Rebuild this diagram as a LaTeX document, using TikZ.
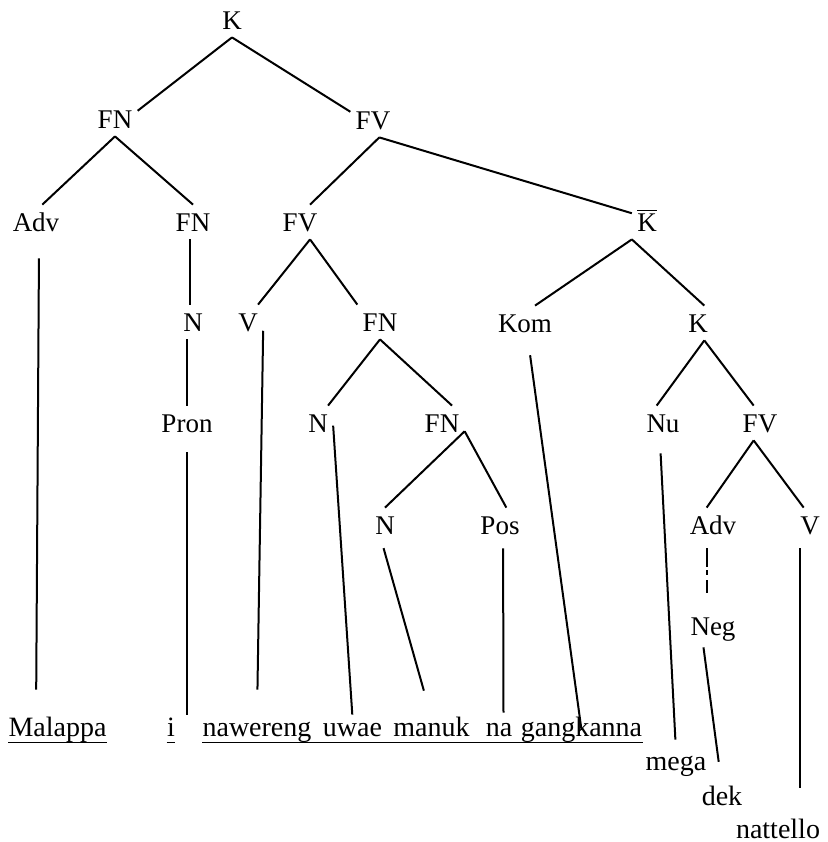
\documentclass[tikz,border=0pt]{standalone}
\usepackage{fontspec}
\setmainfont{Liberation Serif}

\begin{document}
\begin{tikzpicture}[x=0.5pt, y=-0.5pt,
    font=\fontsize{13.5pt}{16pt}\selectfont,
    cat/.style={inner xsep=2.5pt, inner ysep=4pt, text height=9pt, text depth=0pt},
    word/.style={inner sep=0pt, text height=9pt, text depth=3pt, anchor=base,
      font=\fontsize{14pt}{16pt}\selectfont},
    tline/.style={line width=1pt},
    uline/.style={line width=0.9pt}]
      \useasboundingbox (0,0) rectangle (827,842);

      % categories
      \node[cat] (k) at (232,20) {K};
      \node[cat] (fn1) at (115,119) {FN};
      \node[cat] (fv1) at (373,120) {FV};
      \node[cat] (adv1) at (36,222) {Adv};
      \node[cat] (fn2) at (193,222) {FN};
      \node[cat] (fv2) at (300,222) {FV};
      \node[cat] (kbar) at (647,222) {$\overline{\mbox{K}}$};
      \node[cat] (n1) at (193,322) {N};
      \node[cat] (v1) at (248,322) {V};
      \node[cat] (fn3) at (380,322) {FN};
      \node[cat] (kom) at (525,323) {Kom};
      \node[cat] (k2) at (698,323) {K};
      \node[cat] (pron) at (187,423) {Pron};
      \node[cat] (n2) at (318,423) {N};
      \node[cat] (fn4) at (442,423) {FN};
      \node[cat] (nu) at (663,423) {Nu};
      \node[cat] (fv3) at (760,423) {FV};
      \node[cat] (n3) at (385,525) {N};
      \node[cat] (pos) at (500,525) {Pos};
      \node[cat] (adv2) at (713,525) {Adv};
      \node[cat] (v2) at (810,525) {V};
      \node[cat] (neg) at (713,626) {Neg};

      % words
      \node[word] (malappa) at (57.5,736) {Malappa};
      \node[word] (i) at (171,736) {i};
      \node[word] (nawereng) at (257,736) {nawereng};
      \node[word] (uwae) at (352.5,736) {uwae};
      \node[word] (manuk) at (431.5,736) {manuk};
      \node[word] (na) at (499,736) {na};
      \node[word] (gangkanna) at (581.5,736) {gangkanna};
      \node[word] (mega) at (676,770) {mega};
      \node[word] (dek) at (722,805) {dek};
      \node[word] (nattello) at (778,838) {nattello};


      \draw[tline] (k.south) -- (fn1.20);
      \draw[tline] (k.south) -- (fv1.160);

      \draw[tline] (fn1.south) -- (adv1.70);
      \draw[tline] (fn1.south) -- (fn2.north);
      \draw[tline] (fv1.-70) -- (fv2.60);
      \draw[tline] (fv1.-70) -- (kbar.150);

      \draw[tline] (fn2.-100) -- (n1.100);
      \draw[tline] (fv2.-60) -- (v1.60);
      \draw[tline] (fv2.-60) -- (fn3.north west);
      \draw[tline] (kbar.south west) -- (kom.60);
      \draw[tline] (kbar.south west) -- (k2.70);

      \draw[tline] (pron.north |- n1.south) -- (pron.north);
      \draw[tline] (fn3.south) -- (n2.60);
      \draw[tline] (fn3.south) -- (fn4.60);
      \draw[tline] (k2.-70) -- (nu.110);
      \draw[tline] (k2.-70) -- (fv3.110);

      \draw[tline] (fn4.-20) -- (n3.north);
      \draw[tline] (fn4.-20) -- (pos.70);
      \draw[tline] (fv3.-110) -- (adv2.110);
      \draw[tline] (fv3.-110) -- (v2.110);

      \draw[tline, shorten <=3pt, shorten >=8pt,
        dash pattern=on 9.5pt off 1.5pt on 2.5pt off 2.5pt] (adv2.-110) -- (neg.110);

      % down to the words
      \draw[tline, shorten <=9.5pt, shorten >=14pt] (adv1.-80) -- (malappa.150);
      \draw[tline, shorten <=6pt, shorten >=1.5pt] (pron.south) -- (pron.south |- i.north);
      \draw[tline, shorten >=14pt] (v1.-30) -- (nawereng.north);
      \draw[tline, shorten >=1.5pt] (n2.-10) -- (uwae.north);
      \draw[tline, shorten <=3pt, shorten >=14pt] (n3.-100) -- (manuk.north);
      \draw[tline, shorten <=3pt, shorten >=2.5pt] (pos.-80) -- (na.70);
      \draw[tline, shorten <=7.5pt] (kom.-80) -- (gangkanna.center);
      \draw[tline, shorten <=6.5pt, shorten >=6pt] (nu.-100) -- (mega.north);
      \draw[tline, shorten <=2pt, shorten >=12.5pt] (neg.-120) -- (dek.north);
      \draw[tline, shorten <=3pt, shorten >=16pt] (v2.-120) -- (v2.-120 |- nattello.north);

      \draw[uline] (malappa.south west) -- (malappa.south east);
      \draw[uline] (i.south west) -- (i.south east);
      \draw[uline] (nawereng.south west) -- (gangkanna.south east);

    \end{tikzpicture}
\end{document}
